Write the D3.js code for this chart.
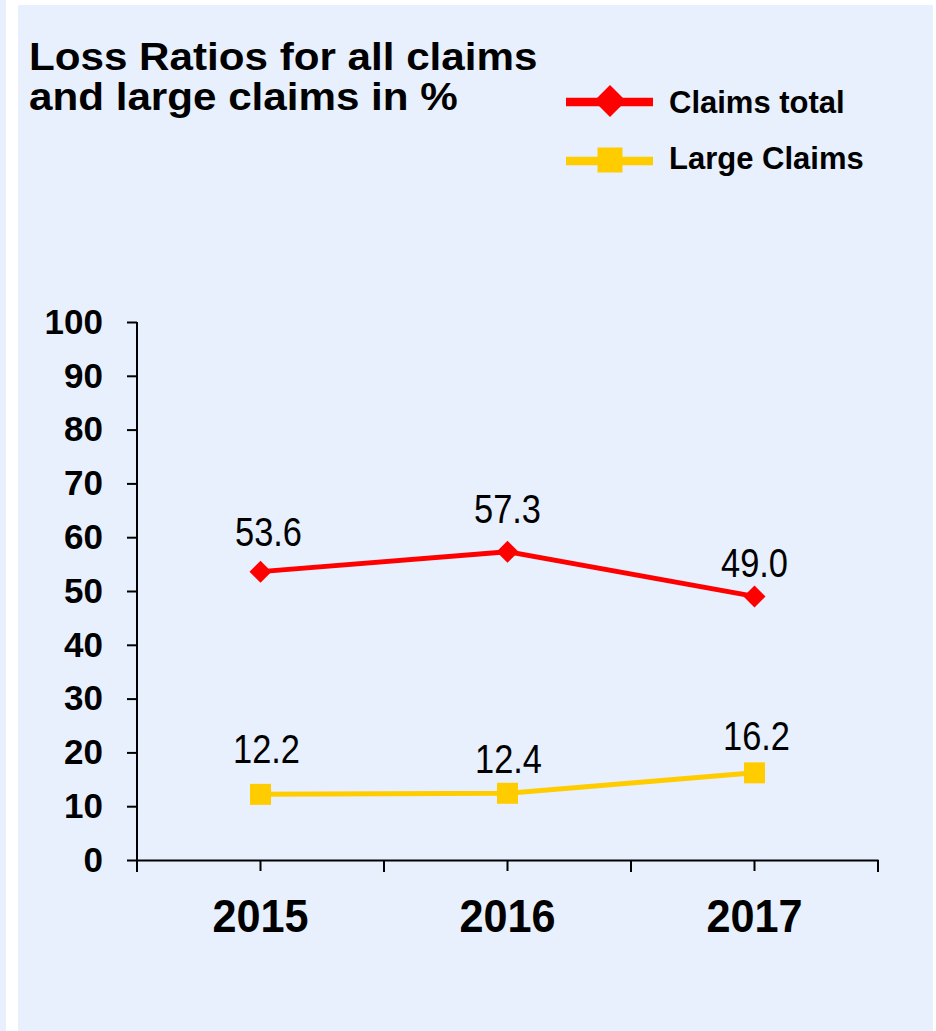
<!DOCTYPE html>
<html>
<head>
<meta charset="utf-8">
<script src="https://cdn.jsdelivr.net/npm/d3@7"></script>
<style>
  html, body { margin: 0; padding: 0; background: #ffffff; }
  svg { display: block; }
</style>
</head>
<body>
<script>
// chart data
var years = ["2015", "2016", "2017"];
var claimsTotal = [53.6, 57.3, 49.0];
var largeClaims = [12.2, 12.4, 16.2];
var yTicks = [0, 10, 20, 30, 40, 50, 60, 70, 80, 90, 100];
var titleLines = ["Loss Ratios for all claims", "and large claims in %"];

// small label nudges (layout only)
var totalNudge = [[8, -26], [0, -29], [0, -19]];
var largeNudge = [[6, -31], [1, -20], [2, -23]];

var width = 936, height = 1031;
var bg = "#e7f0fc";

var svg = d3.select("body").append("svg")
    .attr("width", width)
    .attr("height", height);

// background panels
svg.append("rect").attr("x", 0).attr("y", 0).attr("width", 6).attr("height", height).attr("fill", bg);
svg.append("rect").attr("x", 18).attr("y", 5).attr("width", 915).attr("height", height - 5).attr("fill", bg);

// title (slightly wide bold face)
svg.append("g").selectAll("text")
  .data(titleLines)
  .enter().append("text")
    .attr("transform", (d, i) => "translate(29," + (70 + i * 40) + ") scale(1.11,1)")
    .attr("font-family", "Liberation Sans, Arial, sans-serif")
    .attr("font-weight", "bold")
    .attr("font-size", 38)
    .attr("fill", "#000")
    .text(d => d);

var x = d3.scaleBand().domain(years).range([137, 878]);
var y = d3.scaleLinear().domain([0, 100]).range([860, 322]);

// y axis
var yAxis = svg.append("g")
    .attr("transform", "translate(137,0)")
    .call(d3.axisLeft(y).tickValues(yTicks).tickSize(10).tickPadding(24).tickSizeOuter(0));
yAxis.select(".domain").attr("stroke", "#000").attr("stroke-width", 2).attr("d", "M0," + y(100) + "V" + (y(0) + 12));
yAxis.selectAll(".tick line").attr("stroke", "#000").attr("stroke-width", 2);
yAxis.selectAll(".tick text")
    .attr("font-family", "Liberation Sans, Arial, sans-serif")
    .attr("font-weight", "bold")
    .attr("font-size", 35)
    .attr("fill", "#000");

// x axis
var xAxis = svg.append("g")
    .attr("transform", "translate(0," + y(0) + ")")
    .call(d3.axisBottom(x).tickSize(11).tickPadding(0).tickSizeOuter(0));
xAxis.select(".domain").attr("stroke", "#000").attr("stroke-width", 2);
xAxis.selectAll(".tick line").attr("stroke", "#000").attr("stroke-width", 2);
xAxis.selectAll(".tick text").remove();
// boundary ticks
var bounds = years.map(d => x(d)).concat([x(years[years.length - 1]) + x.bandwidth()]);
xAxis.selectAll("line.bound")
  .data(bounds)
  .enter().append("line")
    .attr("class", "bound")
    .attr("x1", d => d).attr("x2", d => d)
    .attr("y1", 0).attr("y2", 12)
    .attr("stroke", "#000").attr("stroke-width", 2);

var cx = d => x(d) + x.bandwidth() / 2;

// year labels (condensed bold)
svg.append("g").selectAll("text")
  .data(years)
  .enter().append("text")
    .attr("transform", d => "translate(" + cx(d) + ",932) scale(0.92,1)")
    .attr("text-anchor", "middle")
    .attr("font-family", "Liberation Sans, Arial, sans-serif")
    .attr("font-weight", "bold")
    .attr("font-size", 47)
    .attr("fill", "#000")
    .text(d => d);

var line = d3.line()
    .x(d => cx(d.year))
    .y(d => y(d.value));

function drawSeries(values, color, nudges, marker) {
  var pts = years.map((yr, i) => ({ year: yr, value: values[i], nudge: nudges[i] }));
  var g = svg.append("g");
  g.append("path")
    .datum(pts)
    .attr("d", line)
    .attr("fill", "none")
    .attr("stroke", color)
    .attr("stroke-width", 5)
    .attr("stroke-linejoin", "round");
  g.selectAll("path.mk")
    .data(pts)
    .enter().append("path")
      .attr("class", "mk")
      .attr("transform", d => "translate(" + cx(d.year) + "," + y(d.value) + ")")
      .attr("d", marker)
      .attr("fill", color);
  g.selectAll("text")
    .data(pts)
    .enter().append("text")
      .attr("transform", d => "translate(" + (cx(d.year) + d.nudge[0]) + "," + (y(d.value) + d.nudge[1]) + ") scale(0.84,1)")
      .attr("text-anchor", "middle")
      .attr("font-family", "Liberation Sans, Arial, sans-serif")
      .attr("font-size", 41)
      .attr("fill", "#000")
      .text(d => d.value.toFixed(1));
}

var diamond = s => "M0," + (-s) + "L" + s + ",0L0," + s + "L" + (-s) + ",0Z";
var square = s => "M" + (-s) + "," + (-s) + "H" + s + "V" + s + "H" + (-s) + "Z";

drawSeries(claimsTotal, "#ff0000", totalNudge, diamond(11));
drawSeries(largeClaims, "#ffcc00", largeNudge, square(10.5));

// legend
var legend = [
  { name: "Claims total", color: "#ff0000", marker: diamond(16), y: 102, ty: 113 },
  { name: "Large Claims", color: "#ffcc00", marker: square(12.5), y: 161, ty: 169 }
];
var lg = svg.append("g").selectAll("g")
  .data(legend)
  .enter().append("g");
lg.append("line")
    .attr("x1", 566).attr("x2", 653)
    .attr("y1", d => d.y).attr("y2", d => d.y)
    .attr("stroke", d => d.color)
    .attr("stroke-width", 8.5);
lg.append("path")
    .attr("transform", d => "translate(610," + (d.y - 1) + ")")
    .attr("d", d => d.marker)
    .attr("fill", d => d.color);
lg.append("text")
    .attr("x", 669)
    .attr("y", d => d.ty)
    .attr("font-family", "Liberation Sans, Arial, sans-serif")
    .attr("font-weight", "bold")
    .attr("font-size", 31)
    .attr("fill", "#000")
    .text(d => d.name);
</script>
</body>
</html>
